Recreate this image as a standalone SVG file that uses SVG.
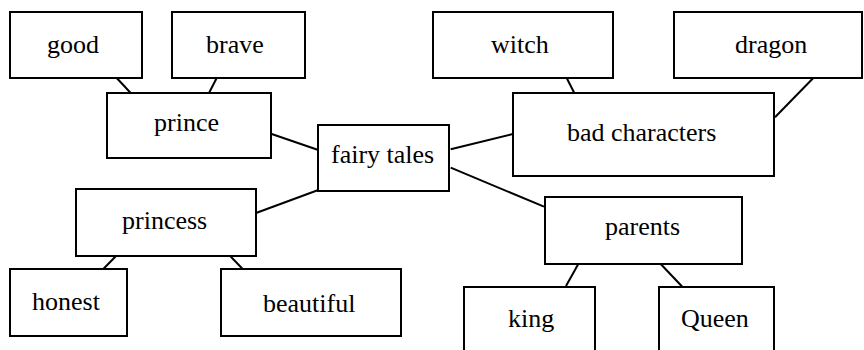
<svg xmlns="http://www.w3.org/2000/svg" width="864" height="350" viewBox="0 0 864 350">
<defs>
<style>
.box{fill:#fff;stroke:#000;stroke-width:2}
.conn line{stroke:#000;stroke-width:2}
</style>
</defs>
<rect width="864" height="350" fill="#fff"/>
<g class="conn" id="connectors">
<line x1="116.7" y1="78" x2="130.7" y2="93"/>
<line x1="216.7" y1="78" x2="209" y2="93"/>
<line x1="271.7" y1="134" x2="318.3" y2="150"/>
<line x1="450.7" y1="149.3" x2="512.7" y2="134"/>
<line x1="566.7" y1="78" x2="574.3" y2="93"/>
<line x1="813.3" y1="78" x2="775" y2="117.3"/>
<line x1="318.3" y1="190" x2="256.7" y2="212.7"/>
<line x1="116" y1="256" x2="103.3" y2="269"/>
<line x1="222.7" y1="248.3" x2="242.7" y2="269"/>
<line x1="450.7" y1="167.7" x2="544" y2="206.7"/>
<line x1="578.3" y1="264" x2="566" y2="286"/>
<line x1="660.7" y1="264" x2="682.3" y2="286.7"/>
</g>
<g id="good"><rect class="box" x="10" y="12" width="132" height="66"/><text x="47" y="53" font-family="Liberation Serif" font-size="26">good</text></g>
<g id="brave"><rect class="box" x="172" y="12" width="133" height="66"/><text x="206" y="53" font-family="Liberation Serif" font-size="26">brave</text></g>
<g id="prince"><rect class="box" x="107" y="93" width="164" height="65"/><text x="154" y="131" font-family="Liberation Serif" font-size="26">prince</text></g>
<g id="witch"><rect class="box" x="433" y="12" width="180" height="66"/><text x="491" y="53" font-family="Liberation Serif" font-size="26">witch</text></g>
<g id="dragon"><rect class="box" x="674" y="12" width="188" height="66"/><text x="735" y="53" font-family="Liberation Serif" font-size="26">dragon</text></g>
<g id="fairy-tales"><rect class="box" x="318" y="125" width="131" height="66"/><text x="331" y="163" font-family="Liberation Serif" font-size="26">fairy tales</text></g>
<g id="bad-characters"><rect class="box" x="513" y="93" width="261" height="83"/><text x="567" y="141" font-family="Liberation Serif" font-size="26">bad characters</text></g>
<g id="princess"><rect class="box" x="76" y="189" width="180" height="67"/><text x="122" y="229" font-family="Liberation Serif" font-size="26">princess</text></g>
<g id="honest"><rect class="box" x="10" y="269" width="117" height="67"/><text x="32" y="309.5" font-family="Liberation Serif" font-size="26">honest</text></g>
<g id="beautiful"><rect class="box" x="221" y="269" width="180" height="67"/><text x="263" y="311.5" font-family="Liberation Serif" font-size="26">beautiful</text></g>
<g id="parents"><rect class="box" x="545" y="197" width="197" height="67"/><text x="605" y="235" font-family="Liberation Serif" font-size="26">parents</text></g>
<g id="king"><rect class="box" x="464" y="287" width="131" height="66"/><text x="508" y="327" font-family="Liberation Serif" font-size="26">king</text></g>
<g id="Queen"><rect class="box" x="659" y="287" width="115" height="66"/><text x="681" y="327" font-family="Liberation Serif" font-size="26">Queen</text></g>
</svg>
